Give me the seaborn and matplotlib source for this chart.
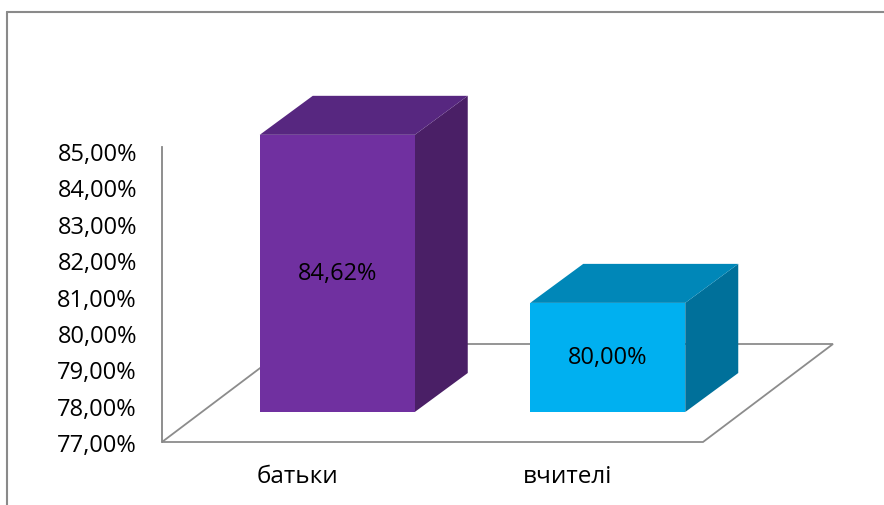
import matplotlib
matplotlib.use("Agg")
import matplotlib.pyplot as plt
import seaborn as sns
import numpy as np
from matplotlib.patches import Polygon
from matplotlib.transforms import ScaledTranslation, IdentityTransform
from matplotlib.lines import Line2D
from matplotlib.ticker import FuncFormatter

# ---- data ----
categories = ["батьки", "вчителі"]
values = [84.62, 80.00]
y_ticks = [77, 78, 79, 80, 81, 82, 83, 84, 85]
front_colors = ["#7030A0", "#00B0F0"]
top_colors = ["#572780", "#0087B8"]
side_colors = ["#4A1F66", "#00709A"]

sns.set_theme(style="white")
plt.rcParams["font.family"] = ["Open Sans", "DejaVu Sans"]

W, H, DPI = 884, 506, 100
fig = plt.figure(figsize=(W / DPI, H / DPI), dpi=DPI)
fig.patch.set_facecolor("white")

# axes frame in pixels
ax_l, ax_r, ax_b, ax_t = 162, 703, 443, 148
ax = fig.add_axes([ax_l / W, 1 - ax_b / H, (ax_r - ax_l) / W, (ax_b - ax_t) / H])
ax.set_facecolor("none")

base = y_ticks[0]
bar_w = 0.573
sns.barplot(x=categories, y=values, hue=categories, palette=front_colors,
            width=bar_w, legend=False, ax=ax, saturation=1)

ax.set_xlim(-0.5, 1.5)
ax.set_ylim(77, 85.11)
ax.set_yticks(y_ticks)
ax.yaxis.set_major_formatter(FuncFormatter(lambda v, p: f"{v:.2f}%".replace(".", ",")))
ax.tick_params(axis="y", length=0, pad=18, labelsize=17, colors="black")
ax.tick_params(axis="x", length=0, pad=16, labelsize=17.5, colors="black")
ax.set_xlabel("")
ax.set_ylabel("")
for s in ["top", "right", "bottom"]:
    ax.spines[s].set_visible(False)
ax.spines["left"].set_color("#868686")
ax.spines["left"].set_linewidth(1.3)

# 3D offsets (pixels)
front_off = (40, 30)     # bars sit partway back on the floor
depth = (53, 39)         # bar depth
floor_depth = (130, 98)  # floor depth

def disp(xd, yd, ox=0, oy=0):
    p = ax.transData.transform((xd, yd))
    return (p[0] + ox, p[1] + oy)

# floor
fl = [disp(-0.5, base), disp(1.5, base),
      disp(1.5, base, *floor_depth), disp(-0.5, base, *floor_depth)]
ax.add_patch(Polygon(fl, closed=True, facecolor="white", edgecolor="#8C8C8C",
                     linewidth=1.3, transform=IdentityTransform(), clip_on=False, zorder=0.5))

off_tr = ax.transData + ScaledTranslation(front_off[0] / DPI, front_off[1] / DPI, fig.dpi_scale_trans)

for i, (patch, v) in enumerate(zip(ax.patches, values)):
    x0 = patch.get_x()
    w = patch.get_width()
    patch.set_y(base)
    patch.set_height(v - base)
    patch.set_transform(off_tr)
    patch.set_clip_on(False)
    patch.set_linewidth(0)
    patch.set_zorder(3)
    fx, fy = front_off
    dx, dy = depth
    # side face
    side = [disp(x0 + w, base, fx, fy), disp(x0 + w, v, fx, fy),
            disp(x0 + w, v, fx + dx, fy + dy), disp(x0 + w, base, fx + dx, fy + dy)]
    ax.add_patch(Polygon(side, closed=True, facecolor=side_colors[i], edgecolor="none",
                         transform=IdentityTransform(), clip_on=False, zorder=2))
    # top face
    top = [disp(x0, v, fx, fy), disp(x0 + w, v, fx, fy),
           disp(x0 + w, v, fx + dx, fy + dy), disp(x0, v, fx + dx, fy + dy)]
    ax.add_patch(Polygon(top, closed=True, facecolor=top_colors[i], edgecolor="none",
                         transform=IdentityTransform(), clip_on=False, zorder=2))
    # data label
    ax.text(x0 + w / 2, base + (v - base) / 2, f"{v:.2f}%".replace(".", ","),
            transform=off_tr, ha="center", va="center", fontsize=17,
            color="black", zorder=4, clip_on=False)

# outer chart border (top and left)
bc = "#8A8A8A"
fig.add_artist(Line2D([7 / W, 7 / W], [0, 1 - 13 / H], transform=fig.transFigure,
                      color=bc, linewidth=1.5))
fig.add_artist(Line2D([7 / W, 1], [1 - 13 / H, 1 - 13 / H], transform=fig.transFigure,
                      color=bc, linewidth=1.5))

fig.savefig("out.png", dpi=DPI)
